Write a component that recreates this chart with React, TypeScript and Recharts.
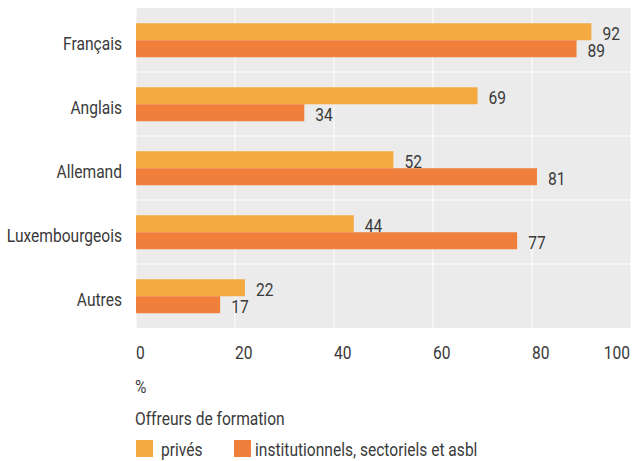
import { BarChart, Bar, XAxis, YAxis, CartesianGrid, ReferenceLine, LabelList } from 'recharts';

const categories = ['Français', 'Anglais', 'Allemand', 'Luxembourgeois', 'Autres'];
const prives = [92, 69, 52, 44, 22];
const institutionnels = [89, 34, 81, 77, 17];
const xTicks = [0, 20, 40, 60, 80, 100];
const seriesNames = ['privés', 'institutionnels, sectoriels et asbl'];
const unitLabel = '%';
const legendTitle = 'Offreurs de formation';

// no condensed face installed, so squeeze Roboto horizontally
const FONT = 'Roboto, "DejaVu Sans", sans-serif';
const SQUEEZE = 0.82;
const TEXT = '#3a3a3a';
const COLORS = ['#F5A941', '#EF7F3B'];

const data = categories.map((c, i) => ({ name: c, prives: prives[i], inst: institutionnels[i] }));

function NText({ x, y, anchor = 'start', children }: { x: number; y: number; anchor?: 'start' | 'end' | 'middle'; children: any }) {
  return (
    <text transform={`translate(${x},${y}) scale(${SQUEEZE},1)`} x={0} y={0} textAnchor={anchor} fill={TEXT} fontSize={19} fontFamily={FONT}>
      {children}
    </text>
  );
}

function CatTick(props: any) {
  const { x, y, payload } = props;
  return <NText x={x - 14} y={y + 9.5} anchor="end">{payload.value}</NText>;
}

function ValTick(props: any) {
  const { x, y, payload, index } = props;
  const last = index === xTicks.length - 1;
  return <NText x={last ? x - 1 : x} y={y + 31} anchor={last ? 'end' : 'start'}>{payload.value}</NText>;
}

function BarValue(props: any) {
  const { x, y, width, height, value } = props;
  return <NText x={x + width + 11} y={y + height / 2 + 8.5}>{value}</NText>;
}

export default function App() {
  // pinned to the window corner so the body margin can't push anything out of view
  return (
    <div style={{ position: 'fixed', left: 0, top: 0, width: 633, height: 461, background: '#fff' }}>
      <BarChart
        width={633}
        height={368}
        data={data}
        layout="vertical"
        margin={{ top: 8, right: 2, left: 8, bottom: 0 }}
        barCategoryGap="24%"
        barGap={0}
      >
        <CartesianGrid horizontal={false} vertical fill="#EBEBEB" stroke="#FFFFFF" strokeWidth={1} />
        <XAxis
          type="number"
          domain={[0, 100]}
          ticks={xTicks}
          tick={<ValTick />}
          tickLine={false}
          axisLine={false}
          tickSize={0}
          tickMargin={0}
          height={40}
          interval={0}
        />
        <YAxis
          type="category"
          dataKey="name"
          width={128}
          tick={<CatTick />}
          tickLine={false}
          axisLine={false}
          tickSize={0}
          tickMargin={0}
          interval={0}
        />
        {categories.slice(1).map((c) => (
          <ReferenceLine key={c} y={c} position="start" stroke="#FFFFFF" strokeWidth={1} />
        ))}
        <Bar dataKey="prives" fill={COLORS[0]} isAnimationActive={false}>
          <LabelList dataKey="prives" content={<BarValue />} />
        </Bar>
        <Bar dataKey="inst" fill={COLORS[1]} isAnimationActive={false}>
          <LabelList dataKey="inst" content={<BarValue />} />
        </Bar>
      </BarChart>
      <svg width={633} height={93} style={{ display: 'block' }}>
        <NText x={135} y={25}>{unitLabel}</NText>
        <NText x={135} y={57}>{legendTitle}</NText>
        <rect x={136} y={72} width={17} height={17} fill={COLORS[0]} />
        <NText x={161} y={88}>{seriesNames[0]}</NText>
        <rect x={234} y={72} width={17} height={17} fill={COLORS[1]} />
        <NText x={255} y={88}>{seriesNames[1]}</NText>
      </svg>
    </div>
  );
}
